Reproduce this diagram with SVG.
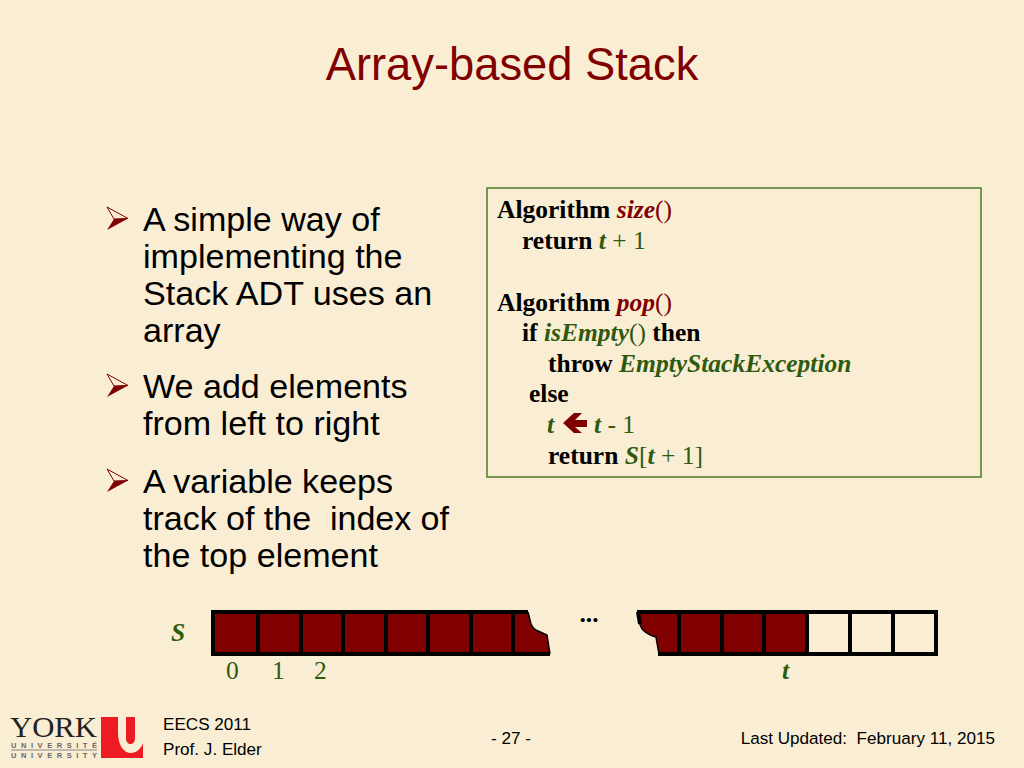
<svg xmlns="http://www.w3.org/2000/svg" width="1024" height="768" viewBox="0 0 1024 768">
<style>
.s{font-family:"Liberation Sans",Arial,sans-serif;fill:#000}
.b{font-size:34.1px}
.f{font-size:17.1px}
.c{font-family:"Liberation Serif","Times New Roman",serif;font-size:25.5px;fill:#2f5a0e}
.k{font-weight:bold;fill:#000}
.v{font-style:italic;font-weight:bold}
.r{fill:#800000}
.m{fill:#800000;stroke:none}
.o{fill:none;stroke:#000;stroke-width:4}
.t{fill:none;stroke:#000;stroke-width:1.5}
.bu{stroke:#800000;stroke-width:1;fill:none}
.ul{font-family:"Liberation Sans",sans-serif;font-size:7.5px;font-weight:bold;fill:#666}
</style>
<defs>
<g id="bullet">
<path class="bu" d="M107 207L128 218.5L114 219Z"/>
<path class="r" d="M128 218.5L114 219L107 230Z"/>
</g>
</defs>
<rect width="1024" height="768" fill="#f9eed4"/>
<text x="512" y="80" text-anchor="middle" font-family="Liberation Sans, Arial, sans-serif" font-size="45.3" fill="#800000">Array-based Stack</text>
<g id="bullets">
<use href="#bullet"/>
<use href="#bullet" y="167"/>
<use href="#bullet" y="262"/>
<text class="s b" x="143" y="231">A simple way of</text>
<text class="s b" x="143" y="268">implementing the</text>
<text class="s b" x="143" y="305">Stack ADT uses an</text>
<text class="s b" x="143" y="342">array</text>
<text class="s b" x="143" y="398">We add elements</text>
<text class="s b" x="143" y="435">from left to right</text>
<text class="s b" x="143" y="493">A variable keeps</text>
<text class="s b" x="143" y="530" xml:space="preserve" textLength="306">track of the  index of</text>
<text class="s b" x="143" y="567">the top element</text>
</g>
<g id="code">
<rect x="487" y="188" width="494" height="289" fill="none" stroke="#4c7a26" stroke-width="1.5"/>
<text class="c" x="497" y="218"><tspan class="k">Algorithm</tspan> <tspan class="v r">size</tspan><tspan class="r">()</tspan></text>
<text class="c" x="522" y="249"><tspan class="k">return</tspan> <tspan class="v">t</tspan> + 1</text>
<text class="c" x="497" y="311"><tspan class="k">Algorithm</tspan> <tspan class="v r">pop</tspan><tspan class="r">()</tspan></text>
<text class="c" x="522" y="341"><tspan class="k">if</tspan> <tspan class="v">isEmpty</tspan>() <tspan class="k">then</tspan></text>
<text class="c" x="548" y="372"><tspan class="k">throw</tspan> <tspan class="v">EmptyStackException</tspan></text>
<text class="c" x="529" y="402"><tspan class="k">else</tspan></text>
<text class="c" x="547" y="433"><tspan class="v">t</tspan></text>
<path id="arrow" class="r" d="M563 423L574 413H582L575 420H587V427H575L582 433H574Z"/>
<text class="c" x="594" y="433"><tspan class="v">t</tspan> - 1</text>
<text class="c" x="548" y="464"><tspan class="k">return</tspan> <tspan class="v">S</tspan>[<tspan class="v">t</tspan> + 1]</text>
</g>
<g id="array-left">
<path class="m" d="M213 612H528L531 624Q533 629 538 631L547 635L550 654H213Z"/>
<path class="t" d="M528 612L531 624Q533 629 538 631L547 635L550 654"/>
<path class="o" d="M528 612H213V654H550"/>
<path class="o" d="M258 612V654M301 612V654M343 612V654M386 612V654M428 612V654M471 612V654M513 612V654"/>
</g>
<g id="array-right">
<path class="r" d="M638 612H807V654H659L656 637Q648 635 643 630Q640 627 639 620Z"/>
<path class="t" d="M659 654L656 637Q648 635 643 630Q640 627 639 620"/>
<path class="o" d="M637 612H936V654H658"/>
<path class="o" stroke-width="3" d="M638 612L640 624"/>
<path class="o" d="M679 612V654M722 612V654M764 612V654M807 612V654M850 612V654M893 612V654"/>
</g>
<text class="c" x="589" y="622" text-anchor="middle" style="fill:#000;font-weight:bold">...</text>
<text class="c v" x="171" y="641">S</text>
<text class="c" x="226" y="679">0</text>
<text class="c" x="272" y="679">1</text>
<text class="c" x="314" y="679">2</text>
<text class="c v" x="782" y="679">t</text>
<g id="logo">
<text x="10" y="737" font-family="Liberation Serif, serif" font-size="29.5" fill="#222" textLength="87" lengthAdjust="spacingAndGlyphs">YORK</text>
<text class="ul" x="11" y="748" textLength="86">UNIVERSITÉ</text>
<path d="M11 750H97" stroke="#888" stroke-width="1"/>
<text class="ul" x="11" y="758" textLength="86">UNIVERSITY</text>
<path fill="#ed1c24" d="M101 717H118V732C118 746 124 753 131 753C136 753 141 749 143 743V758H101Z"/>
<path fill="#ed1c24" d="M126 717H135V738C135 746 126 746 126 738Z"/>
</g>
<text class="s f" x="163" y="730">EECS 2011</text>
<text class="s f" x="163" y="755">Prof. J. Elder</text>
<text class="s f" x="511" y="744" text-anchor="middle">- 27 -</text>
<text class="s f" x="995" y="744" text-anchor="end" xml:space="preserve">Last Updated:  February 11, 2015</text>
</svg>
